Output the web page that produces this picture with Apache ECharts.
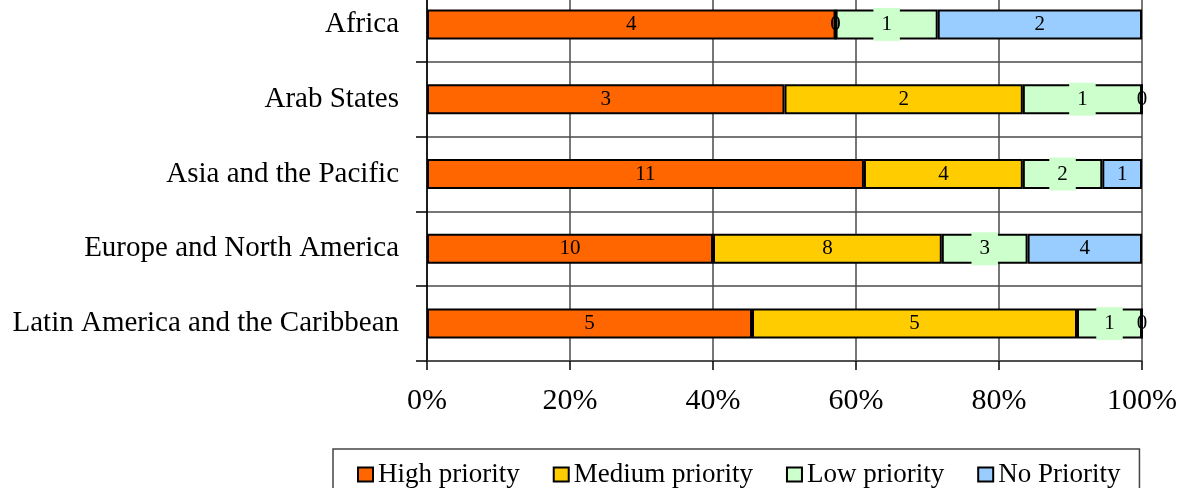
<!DOCTYPE html>
<html><head><meta charset="utf-8">
<script src="https://cdn.jsdelivr.net/npm/echarts@6/dist/echarts.min.js"></script>
<style>html,body{margin:0;padding:0;background:#fff}#c{width:1181px;height:488px}</style>
</head><body><div id="c"></div>
<script>
const categories = ['Africa','Arab States','Asia and the Pacific','Europe and North America','Latin America and the Caribbean'];
const seriesNames = ['High priority','Medium priority','Low priority','No Priority'];
const highPriority = [4, 3, 11, 10, 5];
const mediumPriority = [0, 2, 4, 8, 5];
const lowPriority = [1, 1, 2, 3, 1];
const noPriority = [2, 0, 1, 4, 0];
const xTicks = [0, 20, 40, 60, 80, 100];
const colors = ['#FF6600','#FFCC00','#CCFFCC','#99CCFF'];

const counts = [highPriority, mediumPriority, lowPriority, noPriority];
const totals = categories.map((c,i)=>counts.reduce((s,a)=>s+a[i],0));
const FONT = 'Liberation Serif';

const series = counts.map((arr, si) => ({
  name: seriesNames[si],
  type: 'bar',
  stack: 'total',
  barWidth: 30,
  data: arr.map((v,i)=> v / totals[i] * 100),
  itemStyle: { color: colors[si], borderColor: '#000', borderWidth: 2 },
  label: {
    show: true, position: 'inside', color: '#000',
    fontFamily: FONT, fontSize: 21,
    formatter: p => String(arr[p.dataIndex]),
    backgroundColor: si === 2 ? '#CCFFCC' : 'transparent',
    padding: si === 2 ? [7, 8, 5, 8] : 0
  },
  emphasis: { disabled: true }
}));

const chart = echarts.init(document.getElementById('c'), null, {renderer:'canvas'});
chart.setOption({
  animation: false,
  textStyle: { fontFamily: FONT },
  grid: { left: 427, right: 39, bottom: 127, height: 374, containLabel: false, outerBoundsMode: 'none' },
  xAxis: {
    type: 'value', min: xTicks[0], max: xTicks[xTicks.length-1], interval: 20,
    axisLine: { show: true, lineStyle: { color: '#444', width: 1.5 } },
    axisTick: { show: true, length: 9, lineStyle: { color: '#000', width: 1.5 } },
    axisLabel: { formatter: '{value}%', fontSize: 30, color: '#000', fontFamily: FONT, margin: 25 },
    splitLine: { show: true, lineStyle: { color: '#4a4a4a', width: 1.5 } }
  },
  yAxis: {
    type: 'category', data: categories, inverse: true,
    axisLine: { show: true, lineStyle: { color: '#000', width: 1.5 } },
    axisTick: { show: true, length: 11, lineStyle: { color: '#000', width: 1.5 } },
    axisLabel: { fontSize: 29, color: '#000', fontFamily: FONT, margin: 28 },
    splitLine: { show: true, lineStyle: { color: '#4a4a4a', width: 1.5 } }
  },
  legend: {
    data: seriesNames, left: 333, top: 449,
    itemWidth: 15, itemHeight: 14, itemGap: 33,
    icon: 'rect',
    itemStyle: { borderColor: '#000', borderWidth: 2 },
    textStyle: { fontSize: 27, color: '#000', fontFamily: FONT },
    borderColor: '#444', borderWidth: 1.5, borderRadius: 0,
    padding: [12, 19, 30, 24]
  },
  series
});
</script></body></html>
